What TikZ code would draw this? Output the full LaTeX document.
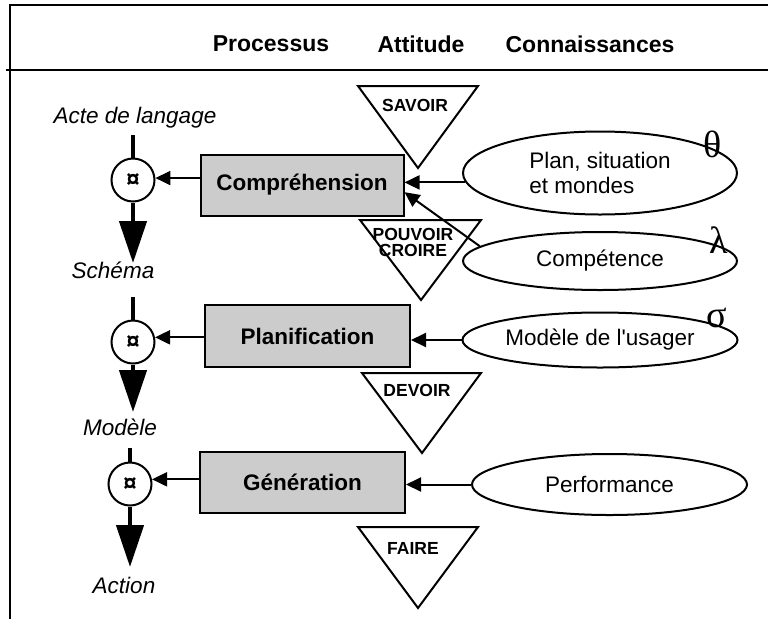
\documentclass[tikz,border=0pt]{standalone}
\usepackage{fontspec}
\setmainfont{Liberation Sans}
\newfontfamily\greekfont{Liberation Serif}
\usetikzlibrary{arrows.meta,shapes.geometric}
\begin{document}
\begin{tikzpicture}[x=1pt,y=-1pt,
  frame/.style={line width=2pt},
  head/.style={font=\bfseries\fontsize{23}{25}\selectfont, inner sep=0pt},
  proc/.style={draw, line width=2pt, fill=black!20, rectangle, inner sep=0pt,
     font=\bfseries\fontsize{22.5}{25}\selectfont},
  know/.style={draw, line width=2pt, ellipse, inner sep=0pt,
     font=\fontsize{22.5}{25}\selectfont},
  junction/.style={draw, line width=2pt, circle, minimum size=43pt, inner sep=0pt,
     font=\bfseries\fontsize{24}{24}\selectfont},
  flowlabel/.style={font=\itshape\fontsize{22.5}{25}\selectfont, inner sep=0pt},
  tri/.style={draw, line width=2pt, line join=miter},
  trilabel/.style={font=\bfseries\fontsize{17.5}{16}\selectfont, inner sep=0pt, align=center},
  greek/.style={font=\greekfont\fontsize{38}{38}\selectfont, inner sep=0pt},
  arr/.style={line width=2pt, -{Triangle[length=15pt,width=14pt]}},
  bigarr/.style={line width=4.5pt, -{Triangle[length=42pt,width=27pt]}},
  stem/.style={line width=4.5pt}
]
\useasboundingbox (0,0) rectangle (768,619);
% frame
\draw[frame] (768,5) -- (10,5) -- (10,619);
\draw[frame] (6,70) -- (768,70);
% header
\node[head] (hproc) at (271,44) {Processus};
\node[head] (hatt) at (421,44) {Attitude};
\node[head] (hcon) at (590,44) {Connaissances};

% triangles
\draw[tri] (358,86) -- (478,86) -- (418,168) -- cycle;
\node[trilabel] (tsavoir) at (415,105) {SAVOIR};
\draw[tri] (360,220) -- (481,220) -- (421,300) -- cycle;
\node[trilabel] (tpouvoir) at (413,242) {POUVOIR\\CROIRE};
\draw[tri] (362,373) -- (481,373) -- (422,453) -- cycle;
\node[trilabel] (tdevoir) at (417,390) {DEVOIR};
\draw[tri] (358,527) -- (478,527) -- (418,608) -- cycle;
\node[trilabel] (tfaire) at (413,548) {FAIRE};

% process boxes
\node[proc, minimum width=203pt, minimum height=61pt] (compr) at (302,185) {Compréhension};
\node[proc, minimum width=205pt, minimum height=62pt] (planif) at (307.5,336) {Planification};
\node[proc, minimum width=205pt, minimum height=61pt] (gen) at (302.5,482.5) {Génération};

% knowledge ellipses
\node[know, minimum width=274pt, minimum height=83pt, align=left] (plan) at (600,173) {Plan, situation\\et mondes};
\node[know, minimum width=274pt, minimum height=58pt] (comp) at (600,261) {Compétence};
\node[know, minimum width=275pt, minimum height=55pt] (usager) at (600,340) {Modèle de l\textquotesingle usager};
\node[know, minimum width=275pt, minimum height=61pt] (perf) at (609.5,484.5) {Performance};

% greek letters
\node[greek] (theta) at (713,144) {θ};
\node[greek] (lambda) at (719,240) {λ};
\node[greek] (sigma) at (717,318) {σ};

% junction circles
\node[junction] (c1) at (133,180) {¤};
\node[junction] (c2) at (133,342) {¤};
\node[junction] (c3) at (130,484) {¤};

% flow labels
\node[flowlabel] (acte) at (135,118) {Acte de langage};
\node[flowlabel] (schema) at (113,270) {Schéma};
\node[flowlabel] (modele) at (120,427) {Modèle};
\node[flowlabel] (action) at (124,585) {Action};

% vertical flow
\coordinate (t1) at (133,135);
\coordinate (b1) at (133,263);
\coordinate (t2) at (133,297);
\coordinate (b2) at (133,412);
\coordinate (t3) at (130,448);
\coordinate (b3) at (130,567);
\draw[stem] (t1) -- (c1.north);
\draw[bigarr] (c1.south) -- (b1);
\draw[stem] (t2) -- (c2.north);
\draw[bigarr] (c2.south) -- (b2);
\draw[stem] (t3) -- (c3.north);
\draw[bigarr] (c3.south) -- (b3);

% box to junction arrows
\draw[arr] (compr.west |- c1.5) -- (c1.5);
\draw[arr] (planif.west |- c2.12) -- (c2.12);
\draw[arr] (gen.west |- c3.12) -- (c3.12);

% knowledge to process arrows
\draw[arr] (plan.184) -- (compr.east |- plan.184);
\draw[arr] (comp.173) -- (compr.-4);
\draw[arr] (usager.west) -- (planif.east |- usager.west);
\draw[arr] (perf.west) -- (gen.east |- perf.west);
\end{tikzpicture}
\end{document}
